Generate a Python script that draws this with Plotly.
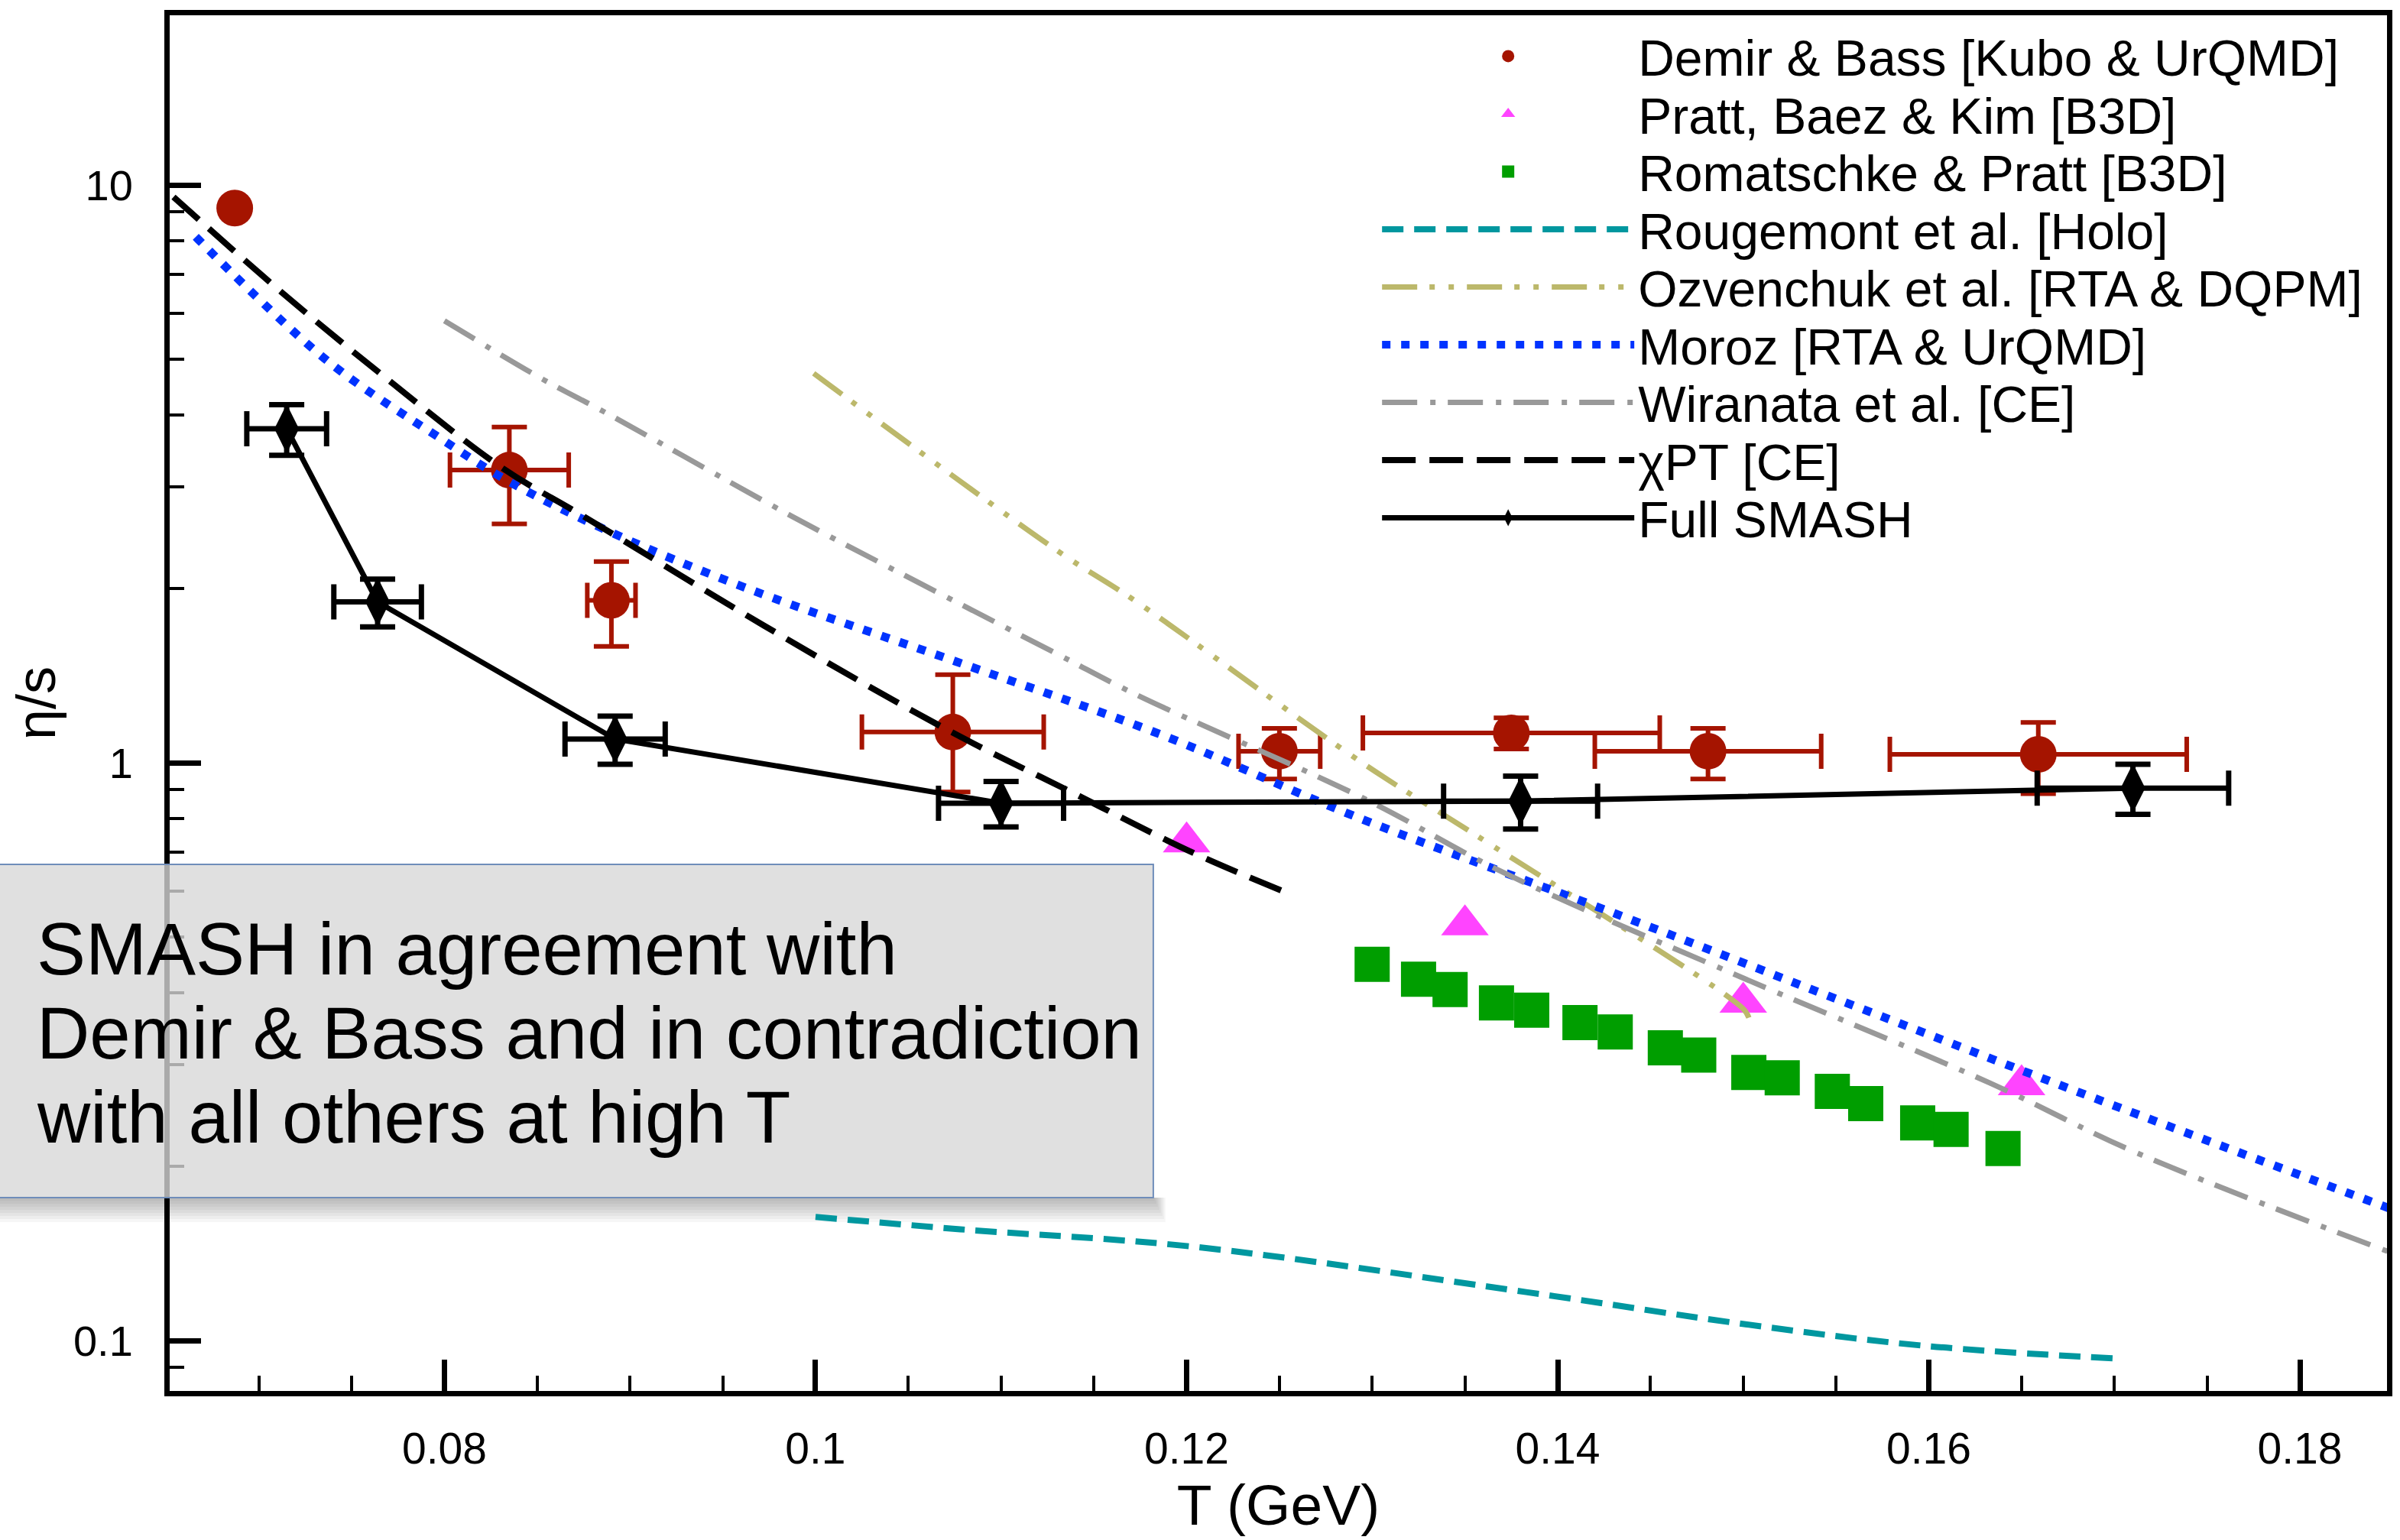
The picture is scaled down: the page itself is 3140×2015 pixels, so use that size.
import plotly.graph_objects as go

# ---------------- data ----------------
demir_T = [0.0687, 0.0835, 0.0890, 0.1074, 0.1250, 0.1375, 0.1481, 0.1659]
demir_v = [9.12, 3.21, 1.91, 1.13, 1.047, 1.126, 1.047, 1.034]
demir_xerr = [0.0, 0.0032, 0.0013, 0.0049, 0.0022, 0.0080, 0.0061, 0.0080]
demir_yerr_plus = [0.0, 0.60, 0.32, 0.29, 0.10, 0.07, 0.10, 0.14]
demir_yerr_minus = [0.0, 0.62, 0.32, 0.24, 0.11, 0.07, 0.11, 0.15]

pratt_T = [0.120, 0.135, 0.150, 0.165]
pratt_v = [0.729, 0.524, 0.385, 0.277]

roma_T = [0.1300, 0.1325, 0.1342, 0.1367, 0.1386, 0.1412, 0.1431, 0.1458,
          0.1476, 0.1503, 0.1521, 0.1548, 0.1566, 0.1594, 0.1612, 0.1640]
roma_v = [0.448, 0.422, 0.405, 0.384, 0.373, 0.355, 0.342, 0.321,
          0.312, 0.291, 0.285, 0.270, 0.257, 0.238, 0.232, 0.215]

rouge_T = [0.100, 0.1078, 0.1204, 0.1383, 0.1502, 0.1598, 0.170]
rouge_v = [0.1637, 0.1558, 0.1453, 0.1213, 0.1066, 0.0979, 0.0931]

ozv_T = [0.0999, 0.1131, 0.1173, 0.1294, 0.1358, 0.1500, 0.1503]
ozv_v = [4.72, 2.32, 1.90, 1.003, 0.742, 0.375, 0.362]

moroz_T = [0.0666, 0.0737, 0.0798, 0.0833, 0.0888, 0.0962, 0.1079, 0.1186,
           0.1291, 0.1435, 0.1564, 0.1693, 0.1849]
moroz_v = [8.13, 4.96, 3.64, 3.09, 2.52, 2.01, 1.484, 1.119,
           0.807, 0.542, 0.375, 0.260, 0.169]

wira_T = [0.0800, 0.0853, 0.0886, 0.0972, 0.1004, 0.1131, 0.1173, 0.1296,
          0.1371, 0.1500, 0.1633, 0.1711, 0.1849]
wira_v = [5.82, 4.61, 4.05, 2.84, 2.50, 1.538, 1.311, 0.866,
          0.645, 0.424, 0.279, 0.212, 0.142]

chipt_T = [0.0654, 0.0714, 0.0773, 0.0831, 0.0875, 0.0972, 0.1072, 0.1139,
           0.1202, 0.1251]
chipt_v = [9.53, 6.45, 4.51, 3.24, 2.67, 1.729, 1.136, 0.886, 0.702, 0.601]

smash_T = [0.0715, 0.0764, 0.0892, 0.1100, 0.1380, 0.1710]
smash_v = [3.785, 1.898, 1.099, 0.851, 0.858, 0.904]
smash_xerr = [0.00215, 0.00236, 0.0027, 0.00337, 0.00415, 0.00516]
smash_yerr = [0.38, 0.18, 0.105, 0.077, 0.09, 0.09]

x_tickvals = [0.08, 0.10, 0.12, 0.14, 0.16, 0.18]
x_ticktext = ["0.08", "0.1", "0.12", "0.14", "0.16", "0.18"]
y_tickvals = [0.1, 1, 10]
y_ticktext = ["0.1", "1", "10"]
y_minor = [0.09, 0.2, 0.3, 0.4, 0.5, 0.6, 0.7, 0.8, 0.9, 2, 3, 4, 5, 6, 7, 8, 9]

names = ["Demir & Bass [Kubo & UrQMD]", "Pratt, Baez & Kim [B3D]",
         "Romatschke & Pratt [B3D]", "Rougemont et al. [Holo]",
         "Ozvenchuk et al. [RTA & DQPM]", "Moroz [RTA & UrQMD]",
         "Wiranata et al. [CE]", "χPT [CE]", "Full SMASH"]

note_lines = ["SMASH in agreement with",
              "Demir & Bass and in contradiction",
              "with all others at high T"]

# ---------------- geometry ----------------
W, H = 3140, 2015
ML, MR, MT, MB = 222, 10, 20, 195
PW = W - ML - MR
PH = H - MT - MB
FONT = "Liberation Sans, Arial, Helvetica, sans-serif"

def px_x(X):
    return (X - ML) / PW

def px_y(Y):
    return (H - MB - Y) / PH

RED = "#A51400"
MAG = "#FF44FF"
GRN = "#009E00"
TEAL = "#00979F"
KHAKI = "#BCB86B"
BLUE = "#0033FF"
GRAY = "#999999"

fig = go.Figure()

legend_ids = ["legend"] + ["legend%d" % i for i in range(2, 10)]

fig.add_trace(go.Scatter(
    x=demir_T, y=demir_v, mode="markers", name=names[0], legend=legend_ids[0],
    marker=dict(symbol="circle", size=48, color=RED),
    error_x=dict(type="data", array=demir_xerr, color=RED, thickness=6, width=23),
    error_y=dict(type="data", array=demir_yerr_plus, arrayminus=demir_yerr_minus,
                 symmetric=False, color=RED, thickness=6, width=23),
))
fig.add_trace(go.Scatter(
    x=pratt_T, y=pratt_v, mode="markers", name=names[1], legend=legend_ids[1],
    marker=dict(symbol="triangle-up", size=54, color=MAG),
))
fig.add_trace(go.Scatter(
    x=roma_T, y=roma_v, mode="markers", name=names[2], legend=legend_ids[2],
    marker=dict(symbol="square", size=46, color=GRN),
))
fig.add_trace(go.Scatter(
    x=rouge_T, y=rouge_v, mode="lines", name=names[3], legend=legend_ids[3],
    line=dict(color=TEAL, width=8, dash="28px,14px", shape="spline"),
))
fig.add_trace(go.Scatter(
    x=ozv_T, y=ozv_v, mode="lines", name=names[4], legend=legend_ids[4],
    line=dict(color=KHAKI, width=7, dash="46px,16px,7px,18px,7px,17px", shape="spline"),
))
fig.add_trace(go.Scatter(
    x=moroz_T, y=moroz_v, mode="lines", name=names[5], legend=legend_ids[5],
    line=dict(color=BLUE, width=11, dash="11px,14px", shape="spline"),
))
fig.add_trace(go.Scatter(
    x=wira_T, y=wira_v, mode="lines", name=names[6], legend=legend_ids[6],
    line=dict(color=GRAY, width=7, dash="46px,17px,7px,16px", shape="spline"),
))
fig.add_trace(go.Scatter(
    x=chipt_T, y=chipt_v, mode="lines", name=names[7], legend=legend_ids[7],
    line=dict(color="black", width=8, dash="44px,18px", shape="spline"),
))
fig.add_trace(go.Scatter(
    x=smash_T, y=smash_v, mode="lines+markers", name=names[8], legend=legend_ids[8],
    line=dict(color="black", width=7),
    marker=dict(symbol="diamond-tall", size=46, color="black"),
    error_x=dict(type="data", array=smash_xerr, color="black", thickness=7, width=23),
    error_y=dict(type="data", array=smash_yerr, color="black", thickness=7, width=23),
))

# legends: one per row, so row spacing follows the reference
ITEMW = 330
TEXT_X = 2142
row0 = 73.5
row_step = 75.5
layout_legends = {}
for i, lid in enumerate(legend_ids):
    layout_legends[lid] = dict(
        x=px_x(TEXT_X - 5 - ITEMW), xanchor="left",
        y=px_y(row0 + i * row_step), yanchor="middle",
        bgcolor="rgba(0,0,0,0)", borderwidth=0,
        font=dict(family=FONT, size=66, color="black"),
        itemwidth=ITEMW, itemsizing="trace",
    )

# annotation box with soft shadow
bx0, bx1, by0, by1 = 0, 1512, 1131, 1567
shapes = []
for k in range(1, 9):
    shapes.append(dict(
        type="rect", xref="paper", yref="paper", layer="below",
        x0=px_x(bx0 - 4), x1=px_x(bx1 + 2 * k), y0=px_y(by1 + 4 * k), y1=px_y(by1),
        fillcolor="rgba(0,0,0,0.035)", line=dict(width=0),
    ))
shapes.append(dict(
    type="rect", xref="paper", yref="paper", layer="above",
    x0=px_x(bx0 - 4), x1=px_x(bx1), y0=px_y(by1), y1=px_y(by0),
    fillcolor="rgba(216,216,216,0.79)", line=dict(color="#6F8DBA", width=2),
))

annotations = []
centers = [1241, 1351, 1461]
for t, yc in zip(note_lines, centers):
    annotations.append(dict(
        text=t, xref="paper", yref="paper", x=px_x(46), y=px_y(yc),
        xanchor="left", yanchor="middle", showarrow=False, align="left",
        font=dict(family=FONT, size=96, color="black"),
    ))

fig.update_layout(
    width=W, height=H,
    margin=dict(l=ML, r=MR, t=MT, b=MB, pad=0),
    paper_bgcolor="white", plot_bgcolor="white",
    showlegend=True,
    font=dict(family=FONT, color="black"),
    shapes=shapes, annotations=annotations,
    **layout_legends,
)

fig.update_xaxes(
    range=[0.065194, 0.184694], showgrid=False, zeroline=False,
    showline=True, linecolor="black", linewidth=7, mirror=True,
    ticks="inside", ticklen=41, tickwidth=7, tickcolor="black",
    tickmode="array", tickvals=x_tickvals, ticktext=x_ticktext,
    tickfont=dict(family=FONT, size=57, color="black"),
    ticklabelstandoff=20,
    minor=dict(dtick=0.005, tick0=0.0, ticks="inside", ticklen=20, tickwidth=4,
               tickcolor="black", showgrid=False),
    title=dict(text="T (GeV)", font=dict(family=FONT, size=75, color="black"), standoff=18),
)
fig.update_yaxes(
    type="log", range=[-1.08730, 1.29365], showgrid=False, zeroline=False,
    showline=True, linecolor="black", linewidth=7, mirror=True,
    ticks="inside", ticklen=41, tickwidth=7, tickcolor="black",
    tickmode="array", tickvals=y_tickvals, ticktext=y_ticktext,
    tickfont=dict(family=FONT, size=56, color="black"),
    ticklabelstandoff=30,
    minor=dict(tickmode="array", tickvals=y_minor, ticks="inside", ticklen=19, tickwidth=4,
               tickcolor="black", showgrid=False),
    title=dict(text="η/s", font=dict(family=FONT, size=72, color="black"), standoff=2),
)

fig.write_html("out.html")
